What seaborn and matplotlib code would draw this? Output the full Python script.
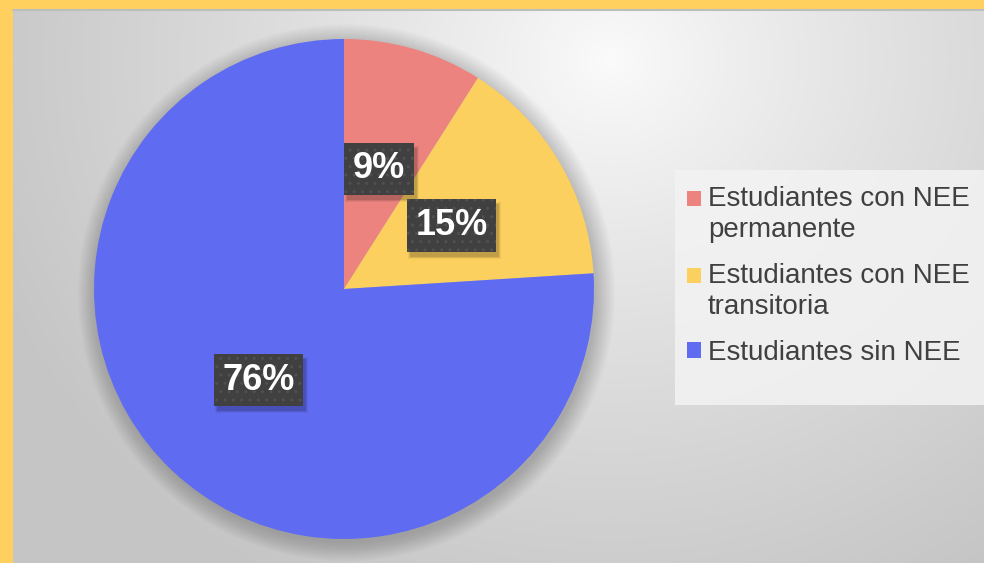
import numpy as np
import matplotlib.pyplot as plt
import matplotlib.patches as mpatches
import matplotlib.transforms as mtransforms
from matplotlib.legend_handler import HandlerPatch
import seaborn as sns

# data
categories = ["Estudiantes con NEE\npermanente",
              "Estudiantes con NEE\ntransitoria",
              "Estudiantes sin NEE"]
shares = [9, 15, 76]
slice_colors = ["#EC837E", "#FCD05E", "#5F6BF0"]

sns.set_style("white")
plt.rcParams['font.family'] = ['Liberation Sans', 'DejaVu Sans']
plt.rcParams['hatch.linewidth'] = 1.0

W, H = 984, 563
fig = plt.figure(figsize=(W / 100, H / 100), dpi=100)

# background: radial grey gradient + yellow frame on top/left
bg = fig.add_axes([0, 0, 1, 1])
yy, xx = np.mgrid[0:H, 0:W]
d = np.hypot(xx - 610, (yy - 60) * 1.1) / 660
shade = 0.985 - 0.21 * np.clip(d, 0, 1) ** 0.85
bg.imshow(np.dstack([shade] * 3), extent=[0, W, H, 0], aspect='auto')
bg.add_patch(mpatches.Rectangle((0, 0), W, 9, color="#FFD05E", lw=0))
bg.add_patch(mpatches.Rectangle((0, 0), 13, H, color="#FFD05E", lw=0))
bg.plot([13, W], [10, 10], color="#bdbdbd", lw=1.5)
# legend panel
bg.add_patch(mpatches.Rectangle((675, 170), W - 675, 235, color="#f3f3f3", lw=0, alpha=0.85))
bg.set_xlim(0, W)
bg.set_ylim(H, 0)
bg.axis('off')

# pie
ax = fig.add_axes([94 / W, (H - 289 - 250) / H, 500 / W, 500 / H])
for k in range(16):
    ax.add_patch(mpatches.Circle((0.01, -0.015), 1.0 + 0.005 * k, color='black',
                                 alpha=0.011, lw=0, clip_on=False))

wedges, texts, autotexts = ax.pie(
    shares, colors=slice_colors, startangle=90, counterclock=False,
    autopct='%1.0f%%', pctdistance=0.5, radius=1.0,
    wedgeprops=dict(linewidth=0),
    textprops=dict(color='white', fontsize=26, fontweight='bold'))
ax.set_xlim(-1, 1)
ax.set_ylim(-1, 1)

for t in autotexts:
    t.set_zorder(3)
    t.set_bbox(dict(boxstyle='square,pad=0.24', fc='#404040', ec='#505050', lw=0, hatch='..'))


class TopHandler(HandlerPatch):
    # put the colour square next to the first line of a wrapped label
    def __init__(self, shift=0, **kw):
        super().__init__(**kw)
        self.shift = shift

    def _create_patch(self, legend, orig_handle, xdescent, ydescent, width, height, fontsize):
        return mpatches.Rectangle((-xdescent, -ydescent + self.shift), width, height)


handler_map = {w: TopHandler(shift=11.5 if '\n' in lab else 0)
               for w, lab in zip(wedges, categories)}
leg = fig.legend(wedges, categories, loc='upper left', bbox_to_anchor=(673 / W, 1 - 172 / H),
                 frameon=False, fontsize=20, handlelength=0.5, handleheight=0.5,
                 handletextpad=0.25, labelspacing=0.72, borderpad=0, handler_map=handler_map)
for txt in leg.get_texts():
    txt.set_color('#404040')
    txt.set_linespacing(1.25)

# soft shadow behind the label boxes
fig.canvas.draw()
ident = mtransforms.IdentityTransform()
for t in autotexts:
    bb = t.get_bbox_patch().get_window_extent()
    for k, a in enumerate([0.12, 0.08, 0.05]):
        ax.add_artist(mpatches.Rectangle((bb.x0 + 3 - k, bb.y0 - 5 - k), bb.width + 2 * k,
                                         bb.height + 2 * k, transform=ident, clip_on=False,
                                         fc='black', ec='none', alpha=a, zorder=2.5))

fig.savefig("out.png", dpi=100)
